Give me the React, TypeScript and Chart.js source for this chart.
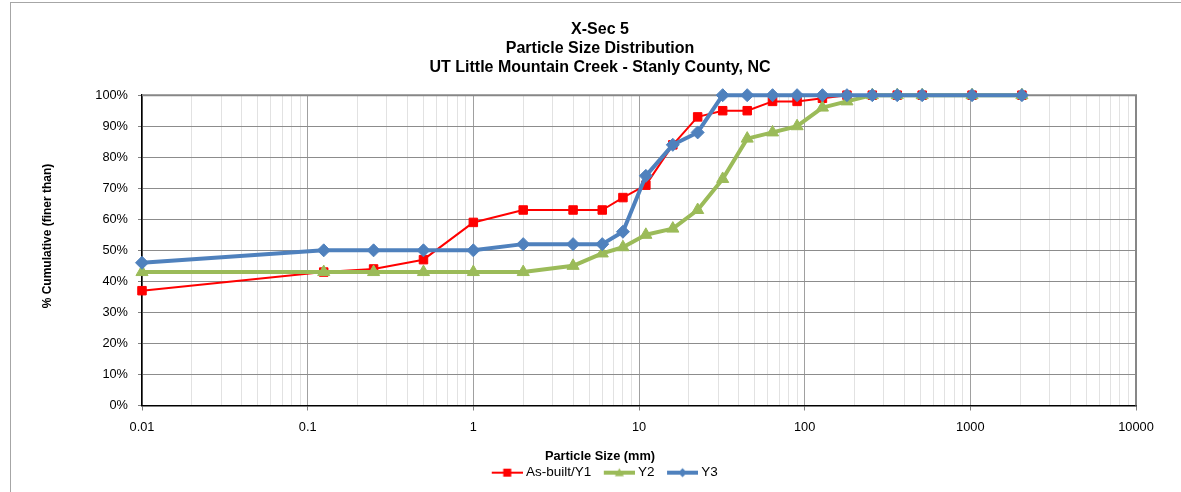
import React, { useEffect, useRef } from 'react';
import { Chart, registerables } from 'chart.js';

Chart.register(...registerables);

// ---- data ----
const particleSizes = [0.01, 0.125, 0.25, 0.5, 1, 2, 4, 6, 8, 11, 16, 22.6, 32, 45, 64, 90, 128, 180, 256, 362, 512, 1024, 2048];
const asBuiltY1 = [37, 43, 44, 47, 59, 63, 63, 63, 67, 71, 84, 93, 95, 95, 98, 98, 99, 100, 100, 100, 100, 100, 100];
const y2Values = [43, 43, 43, 43, 43, 43, 45, 49, 51, 55, 57, 63, 73, 86, 88, 90, 96, 98, 100, 100, 100, 100, 100];
const y3Values = [46, 50, 50, 50, 50, 52, 52, 52, 56, 74, 84, 88, 100, 100, 100, 100, 100, 100, 100, 100, 100, 100, 100];
const seriesNames = ['As-built/Y1', 'Y2', 'Y3'];
const xTickLabels = ['0.01', '0.1', '1', '10', '100', '1000', '10000'];
const xDecades = [0.01, 0.1, 1, 10, 100, 1000];
const xMinorSteps = [1, 2, 3, 4, 5, 6, 7, 8, 9];
const yTickLabels = ['0%', '10%', '20%', '30%', '40%', '50%', '60%', '70%', '80%', '90%', '100%'];
const titleLines = ['X-Sec 5', 'Particle Size Distribution', 'UT Little Mountain Creek - Stanly County, NC'];
const xAxisTitle = 'Particle Size (mm)';
const yAxisTitle = '% Cumulative (finer than)';

const RED = '#FF0000';
const GREEN = '#9BBB59';
const BLUE = '#4F81BD';
const FONT = "'Liberation Sans', Arial, Helvetica, sans-serif";

function isDecade(v: number) {
  const l = Math.log10(v);
  return Math.abs(l - Math.round(l)) < 1e-9;
}

function makeIcon(color: string, lw: number, marker: string) {
  const c = document.createElement('canvas');
  c.width = 44;
  c.height = 14;
  const ctx = c.getContext('2d')!;
  const x0 = 13, x1 = 44, cy = 7, cx = (x0 + x1) / 2;
  ctx.strokeStyle = color;
  ctx.fillStyle = color;
  ctx.lineWidth = lw;
  ctx.beginPath();
  ctx.moveTo(x0, cy);
  ctx.lineTo(x1, cy);
  ctx.stroke();
  ctx.beginPath();
  if (marker === 'rect') {
    ctx.rect(cx - 4, cy - 4, 8, 8);
  } else if (marker === 'triangle') {
    ctx.moveTo(cx, cy - 4.5);
    ctx.lineTo(cx + 4.5, cy + 3.5);
    ctx.lineTo(cx - 4.5, cy + 3.5);
    ctx.closePath();
  } else {
    ctx.moveTo(cx, cy - 4.5);
    ctx.lineTo(cx + 4.5, cy);
    ctx.lineTo(cx, cy + 4.5);
    ctx.lineTo(cx - 4.5, cy);
    ctx.closePath();
  }
  ctx.fill();
  return c;
}

const frameLinesPlugin = {
  id: 'frameLines',
  beforeDatasetsDraw(chart: any) {
    const { ctx, chartArea } = chart;
    ctx.save();
    ctx.strokeStyle = '#878787';
    ctx.lineWidth = 2;
    ctx.beginPath();
    ctx.moveTo(chartArea.left, chartArea.top);
    ctx.lineTo(chartArea.right, chartArea.top);
    ctx.lineTo(chartArea.right, chartArea.bottom);
    ctx.stroke();
    ctx.restore();
  },
};

const yTitlePlugin = {
  id: 'yTitle',
  afterDraw(chart: any) {
    const { ctx } = chart;
    ctx.save();
    ctx.translate(48, 236);
    ctx.rotate(-Math.PI / 2);
    ctx.font = `bold 12px ${FONT}`;
    ctx.fillStyle = '#000';
    ctx.textAlign = 'center';
    ctx.textBaseline = 'middle';
    ctx.fillText(yAxisTitle, 0, 0);
    ctx.restore();
  },
};

export default function App() {
  const canvasRef = useRef<HTMLCanvasElement | null>(null);

  useEffect(() => {
    if (!canvasRef.current) return;
    const icons = [makeIcon(RED, 2, 'rect'), makeIcon(GREEN, 4, 'triangle'), makeIcon(BLUE, 4, 'diamond')];
    const xGridValues: number[] = [];
    xDecades.forEach((d) => xMinorSteps.forEach((m) => xGridValues.push(Number((d * m).toPrecision(6)))));
    xGridValues.push(10000);

    const toPts = (arr: number[]) => particleSizes.map((x, i) => ({ x, y: arr[i] }));

    const chart = new Chart(canvasRef.current, {
      type: 'line',
      data: {
        datasets: [
          {
            label: seriesNames[0],
            data: toPts(asBuiltY1),
            borderColor: RED,
            backgroundColor: RED,
            borderWidth: 2,
            pointStyle: 'rect',
            pointRadius: 6,
            pointBorderWidth: 1,
            pointBackgroundColor: RED,
            pointBorderColor: RED,
            tension: 0,
            order: 3,
            clip: false,
          },
          {
            label: seriesNames[1],
            data: toPts(y2Values),
            borderColor: GREEN,
            backgroundColor: GREEN,
            borderWidth: 4,
            pointStyle: 'triangle',
            pointRadius: 7,
            pointBorderWidth: 1,
            pointBackgroundColor: GREEN,
            pointBorderColor: GREEN,
            tension: 0,
            order: 2,
            clip: false,
          },
          {
            label: seriesNames[2],
            data: toPts(y3Values),
            borderColor: BLUE,
            backgroundColor: BLUE,
            borderWidth: 4,
            pointStyle: 'rectRot',
            pointRadius: 6.5,
            pointBorderWidth: 1,
            pointBackgroundColor: BLUE,
            pointBorderColor: BLUE,
            tension: 0,
            order: 1,
            clip: false,
          },
        ] as any,
      },
      options: {
        responsive: false,
        animation: false,
        devicePixelRatio: 1,
        borderJoinStyle: 'round',
        layout: { padding: { left: 64, right: 45, top: 2, bottom: 2.6 } },
        font: { family: FONT },
        scales: {
          x: {
            type: 'logarithmic',
            min: 0.01,
            max: 10000,
            afterBuildTicks: (scale: any) => {
              scale.ticks = xGridValues.map((v) => ({ value: v }));
            },
            afterFit: (scale: any) => {
              scale.height = 36;
            },
            border: { color: '#000', width: 1.5 },
            grid: {
              color: (ctx: any) => (ctx.tick && isDecade(ctx.tick.value) ? '#a0a0a0' : '#e2e2e2'),
              tickColor: (ctx: any) => (ctx.tick && isDecade(ctx.tick.value) ? '#808080' : 'rgba(0,0,0,0)'),
              tickLength: 5,
            },
            ticks: {
              autoSkip: false,
              maxRotation: 0,
              padding: 9,
              color: '#000',
              font: { family: FONT, size: 12.8 },
              callback: (value: any) => {
                const v = Number(value);
                if (!isDecade(v)) return '';
                const idx = Math.round(Math.log10(v)) + 2;
                return xTickLabels[idx] ?? '';
              },
            },
          },
          y: {
            type: 'linear',
            min: 0,
            max: 100,
            afterFit: (scale: any) => {
              scale.width = 78;
            },
            border: { color: '#000', width: 1.5 },
            grid: {
              color: (ctx: any) => (ctx.tick && ctx.tick.value % 10 === 0 ? '#8c8c8c' : 'rgba(0,0,0,0)'),
              tickColor: '#808080',
              tickLength: 4,
            },
            ticks: {
              stepSize: 5,
              padding: 10,
              color: '#000',
              font: { family: FONT, size: 12.8 },
              callback: (value: any) => {
                const v = Number(value);
                return v % 10 === 0 ? yTickLabels[v / 10] : '';
              },
            },
          },
        },
        plugins: {
          title: {
            display: true,
            text: titleLines,
            color: '#000',
            font: { family: FONT, size: 16, weight: 'bold', lineHeight: 1.16 },
            padding: { top: 18.75, bottom: 18.75 },
          },
          subtitle: {
            display: true,
            position: 'bottom',
            text: xAxisTitle,
            weight: 500,
            color: '#000',
            font: { family: FONT, size: 12.8, weight: 'bold', lineHeight: 1 },
            padding: { top: 8.6, bottom: 0 },
          },
          legend: {
            display: true,
            position: 'bottom',
            labels: {
              usePointStyle: true,
              pointStyleWidth: 37,
              padding: 3,
              color: '#000',
              font: { family: FONT, size: 13.5 },
              generateLabels: () =>
                seriesNames.map((name, i) => ({
                  text: name,
                  pointStyle: icons[i],
                  fillStyle: 'rgba(0,0,0,0)',
                  strokeStyle: 'rgba(0,0,0,0)',
                  lineWidth: 0,
                  hidden: false,
                  datasetIndex: i,
                  fontColor: '#000',
                })),
            },
          },
          tooltip: { enabled: false },
        },
      } as any,
      plugins: [frameLinesPlugin, yTitlePlugin],
    });
    return () => chart.destroy();
  }, []);

  return (
    <div style={{ position: 'fixed', left: 0, top: 0, width: 1181, height: 492, overflow: 'hidden', background: '#fff' }}>
      <div
        style={{
          position: 'absolute',
          left: 10,
          top: 2,
          width: 1300,
          height: 700,
          border: '1px solid #a6a6a6',
          boxSizing: 'border-box',
        }}
      />
      <canvas ref={canvasRef} width={1181} height={492} style={{ position: 'absolute', left: 0, top: 0, width: 1181, height: 492 }} />
    </div>
  );
}
